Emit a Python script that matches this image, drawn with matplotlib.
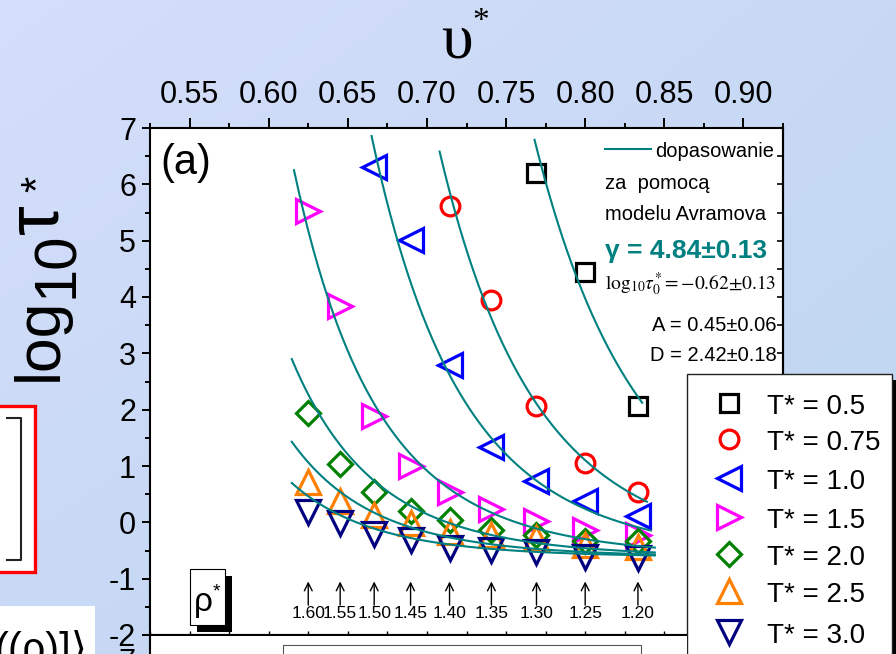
import numpy as np
import matplotlib
matplotlib.use("Agg")
import matplotlib.pyplot as plt
from matplotlib.patches import Rectangle
from matplotlib.lines import Line2D

plt.rcParams['font.family'] = ['Liberation Sans', 'DejaVu Sans']
plt.rcParams['axes.unicode_minus'] = False
plt.rcParams['mathtext.fontset'] = 'stix'

# densities at which the simulations were run, v* = 1/rho*
rho = np.array([1.60, 1.55, 1.50, 1.45, 1.40, 1.35, 1.30, 1.25, 1.20])
rho_labels = ['1.60', '1.55', '1.50', '1.45', '1.40', '1.35', '1.30', '1.25', '1.20']

# log10(tau*) for each isotherm (last points = lowest density)
T_vals = [0.5, 0.75, 1.0, 1.5, 2.0, 2.5, 3.0]
logtau_05 = [6.20, 4.44, 2.06]
logtau_075 = [5.61, 3.95, 2.07, 1.05, 0.54]
logtau_10 = [6.31, 5.01, 2.80, 1.34, 0.73, 0.38, 0.11]
logtau_15 = [5.52, 3.84, 1.88, 1.00, 0.53, 0.23, 0.02, -0.13, -0.22]
logtau_20 = [1.94, 1.03, 0.54, 0.21, 0.04, -0.14, -0.22, -0.34, -0.34]
logtau_25 = [0.72, 0.37, 0.13, -0.02, -0.17, -0.23, -0.28, -0.40, -0.43]
logtau_30 = [0.19, -0.02, -0.20, -0.31, -0.45, -0.49, -0.52, -0.61, -0.64]
series = [logtau_05, logtau_075, logtau_10, logtau_15, logtau_20, logtau_25, logtau_30]

# Avramov fit parameters
gamma = 4.84
log_tau0 = -0.62
A_fit = 0.45
D_fit = 2.42
# specific-volume span of each fitted curve
fit_vmin = [0.768, 0.708, 0.665, 0.616, 0.6146, 0.6146, 0.6146]
fit_vmax = [0.836, 0.839, 0.8415, 0.844, 0.844, 0.844, 0.844]

x_ticks = [0.55, 0.60, 0.65, 0.70, 0.75, 0.80, 0.85, 0.90]
x_ticklabels = ['0.55', '0.60', '0.65', '0.70', '0.75', '0.80', '0.85', '0.90']
y_ticks = [-2, -1, 0, 1, 2, 3, 4, 5, 6, 7]

colors = ['black', '#ff0000', '#0000ff', '#ff00ff', '#008000', '#ff8000', '#000080']
markers = ['s', 'o', '<', '>', 'D', '^', 'v']
msizes = [12.5, 13.5, 17, 17, 12.5, 17, 17]
teal = '#008080'

W, H = 896, 654
fig = plt.figure(figsize=(W / 100, H / 100), dpi=100)

# slide background gradient
yy, xx = np.mgrid[0:1:H * 1j, 0:1:W * 1j]
c_tl = np.array([213, 222, 251]) / 255
c_tr = np.array([200, 217, 245]) / 255
c_bl = np.array([200, 217, 245]) / 255
c_br = np.array([189, 214, 240]) / 255
img = ((1 - xx)[..., None] * ((1 - yy)[..., None] * c_tl + yy[..., None] * c_bl)
       + xx[..., None] * ((1 - yy)[..., None] * c_tr + yy[..., None] * c_br))
bg = fig.add_axes([0, 0, 1, 1], zorder=-10)
bg.imshow(img, aspect='auto', extent=[0, W, H, 0])
bg.axis('off')

# main panel
ax = fig.add_axes([150 / W, 1 - 635 / H, 633 / W, 507 / H])
ax.set_facecolor('white')
ax.set_xlim(0.525, 0.925)
ax.set_ylim(-2, 7)

v = 1.0 / rho
for vals, c, m, ms in zip(series, colors, markers, msizes):
    n = len(vals)
    ax.plot(v[-n:], vals, linestyle='none', marker=m, ms=ms, mfc='none',
            mec=c, mew=2.3, zorder=3)

for T, v0, v1 in zip(T_vals, fit_vmin, fit_vmax):
    vv = np.linspace(v0, v1, 300)
    lt = log_tau0 + np.log10(np.e) * (A_fit / (T * vv ** gamma)) ** D_fit
    ax.plot(vv, lt, color=teal, lw=1.5, zorder=4)

# density markers along the bottom
for vi, lab in zip(v, rho_labels):
    ax.annotate('', xy=(vi, -1.05), xytext=(vi, -1.47),
                arrowprops=dict(arrowstyle='->', lw=1.0, color='black',
                                mutation_scale=14, shrinkA=0, shrinkB=0))
    ax.text(vi, -1.61, lab, ha='center', va='center', fontsize=12.5)

ax.xaxis.tick_top()
ax.set_xticks(x_ticks)
ax.set_xticklabels(x_ticklabels)
ax.set_xticks(np.arange(0.525, 0.926, 0.025), minor=True)
ax.set_yticks(y_ticks)
ax.set_yticks(np.arange(-2, 7.01, 0.5), minor=True)
ax.tick_params(axis='x', which='both', top=True, bottom=False, labeltop=True,
               labelbottom=False, direction='out', width=1.4, labelsize=22, pad=6)
ax.tick_params(axis='x', which='major', length=7)
ax.tick_params(axis='x', which='minor', length=3.5)
ax.tick_params(axis='y', which='both', left=True, right=False, direction='out',
               width=1.4, labelsize=22, pad=4)
ax.tick_params(axis='y', which='major', length=6)
ax.tick_params(axis='y', which='minor', length=3.5)
for s in ax.spines.values():
    s.set_linewidth(1.5)

right = ax.secondary_yaxis('right')
right.set_yticks(np.arange(-2, 7.01, 0.5))
right.tick_params(direction='in', length=4, width=1.2, labelright=False)
right.spines['right'].set_linewidth(1.5)

bottom = ax.secondary_xaxis('bottom')
bottom.set_xticks(np.arange(0.525, 0.926, 0.025))
bottom.tick_params(direction='in', length=3, width=1.0, labelbottom=False)
bottom.spines['bottom'].set_linewidth(1.5)

# overlay in pixel coordinates for labels and boxes
ov = fig.add_axes([0, 0, 1, 1], zorder=10)
ov.set_xlim(0, W)
ov.set_ylim(H, 0)
ov.axis('off')
ov.patch.set_alpha(0)

# axis titles
ov.text(457, 57, 'υ', fontsize=46, family='Liberation Serif', ha='center', va='baseline')
ov.text(481, 30, '*', fontsize=24, family='Liberation Serif', ha='center', va='baseline')
rot = dict(rotation=90, rotation_mode='anchor', ha='left', va='baseline')
ov.text(57, 381, 'log', fontsize=45, **rot)
ov.text(73, 298, '10', fontsize=43, **rot)
ov.text(57, 234, 'τ', fontsize=54, **rot)
ov.text(50, 192, '*', fontsize=30, **rot)

ov.text(160, 174, '(a)', fontsize=30, va='baseline')

# fit description
ov.add_line(Line2D([605, 651], [149, 149], color=teal, lw=1.5))
ov.text(655, 157, 'dopasowanie', fontsize=14.5, va='baseline')
ov.text(605, 189, 'za  pomocą', fontsize=14.5, va='baseline')
ov.text(605, 220, 'modelu Avramova', fontsize=14.5, va='baseline')
ov.text(605, 258, 'γ = 4.84±0.13', fontsize=19, fontweight='bold', color=teal,
        va='baseline')
ov.text(605, 290, r'$\mathrm{log}_{10}\tau_0^{*} = \mathrm{-0.62{\pm}0.13}$',
        fontsize=14, va='baseline')
ov.text(777, 331, 'A = 0.45±0.06', fontsize=14.5, ha='right', va='baseline')
ov.text(777, 361, 'D = 2.42±0.18', fontsize=14.5, ha='right', va='baseline')

# rho* tag with drop shadow
ov.add_patch(Rectangle((197, 576), 35, 56, facecolor='black', edgecolor='none'))
ov.add_patch(Rectangle((190, 569), 35, 56, facecolor='white', edgecolor='black', lw=0.8))
ov.text(194, 611, 'ρ', fontsize=24, va='baseline')
ov.text(213, 596, '*', fontsize=14, va='baseline')

# legend panel
ov.add_patch(Rectangle((892, 380), 6, 280, facecolor='black', edgecolor='none'))
ov.add_patch(Rectangle((687, 374), 205, 290, facecolor='white', edgecolor='#222222', lw=1.0))
rows = [403, 439, 478, 517, 554, 591, 632]
for T, c, m, ms, y in zip(T_vals, colors, markers, msizes, rows):
    ov.plot([729], [y], linestyle='none', marker=m, ms=ms, mfc='none', mec=c, mew=2.3)
    ov.text(767, y + 11, f'T* = {T}', fontsize=20, va='baseline')

# neighbouring slide content
ov.add_patch(Rectangle((-10, 406), 45, 166, facecolor='white', edgecolor='#ff0000', lw=2.4))
ov.add_line(Line2D([7, 21, 21, 7], [418, 418, 560, 560], color='#222222', lw=1.5))
ov.add_patch(Rectangle((-5, 606), 100, 60, facecolor='white', edgecolor='none'))
ov.text(-6, 630, '((ρ)]⟩', fontsize=30, va='top')
ov.add_patch(Rectangle((150, 636), 537, 30, facecolor='white', edgecolor='none'))
ov.add_line(Line2D([150, 150], [635, 660], color='black', lw=1.5))
ov.add_patch(Rectangle((283, 645), 358, 30, facecolor='white', edgecolor='#555555', lw=0.8))
ov.text(135, 648, '7', fontsize=22, ha='right', va='top')

fig.savefig('out.png', dpi=100)
